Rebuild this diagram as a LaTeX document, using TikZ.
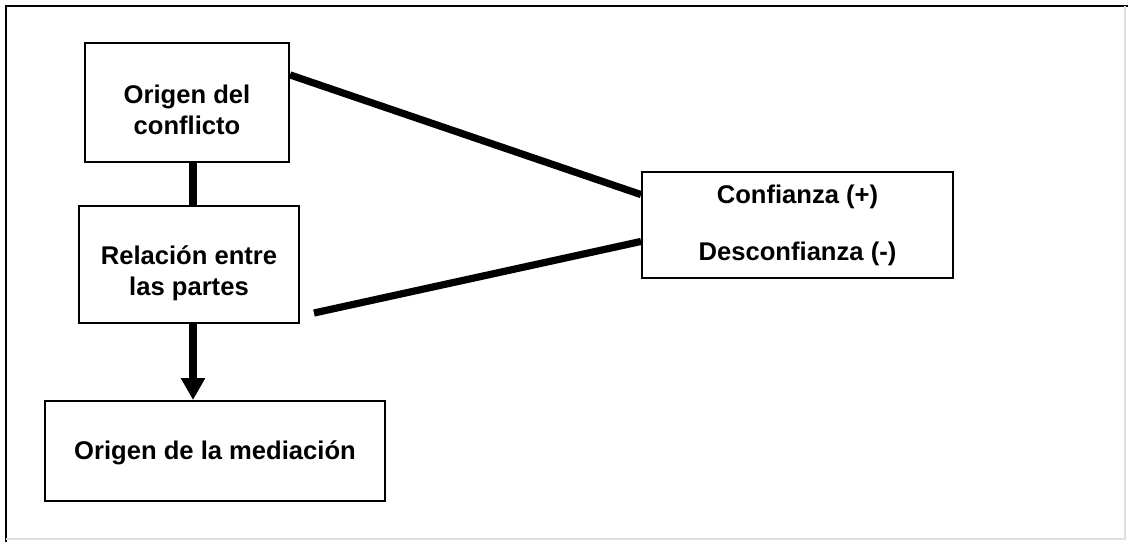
\documentclass[tikz,border=0pt]{standalone}
\usepackage{fontspec}
\setmainfont{Liberation Sans}
\usetikzlibrary{positioning,calc,arrows.meta}
\tikzstyle{block} = [rectangle, draw, line width=1pt, align=center, inner sep=0pt, execute at begin node=\fontsize{12.8}{15.5}\selectfont\bfseries]
\tikzstyle{link} = [draw, line width=3.6pt]
\tikzstyle{flow} = [draw, line width=3.6pt, -{Triangle[width=11.5pt,length=11pt]}]
\newcommand{\lowtext}[1][17pt]{\rule{0pt}{#1}}

\begin{document}
\begin{tikzpicture}[x=0.5pt,y=-0.5pt]
	\useasboundingbox (0,0) rectangle (1128,542);
	%Frame
	\draw [line width=1pt] (6,542) -- (6,6) -- (1128,6);
	\draw [gray!25, line width=0.8pt] (6,539) -- (1125,539) -- (1125,6);

	%Place nodes
	\node [block, minimum width=102pt, minimum height=59.5pt] (Conflicto) at (187,102.5) {\lowtext Origen del\\conflicto};
	\node [block, minimum width=110pt, minimum height=58.5pt] (Relacion) at (189,264.5) {\lowtext[18.5pt]Relación entre\\las partes};
	\node [block, minimum width=170pt, minimum height=50pt] (Mediacion) at (215,451) {\lowtext[11.5pt]Origen de la mediación};
	\node [block, minimum width=155.5pt, minimum height=53pt] (Confianza) at (797.5,225) {Confianza (+)\\[13pt]Desconfianza (-)};
	\coordinate (RelacionEnd) at (314,313);
	\coordinate (ArrowTop) at ($(Relacion.south)+(4,0)$);

	\path [link] (Conflicto.15) -- (Confianza.169);
	\path [link] (RelacionEnd) -- (Confianza.186);
	\path [link] ($(Conflicto.south)+(6,0)$) -- ($(Relacion.north)+(4,0)$);
	\path [flow] (ArrowTop) -- (ArrowTop |- Mediacion.north);

\end{tikzpicture}
\end{document}
